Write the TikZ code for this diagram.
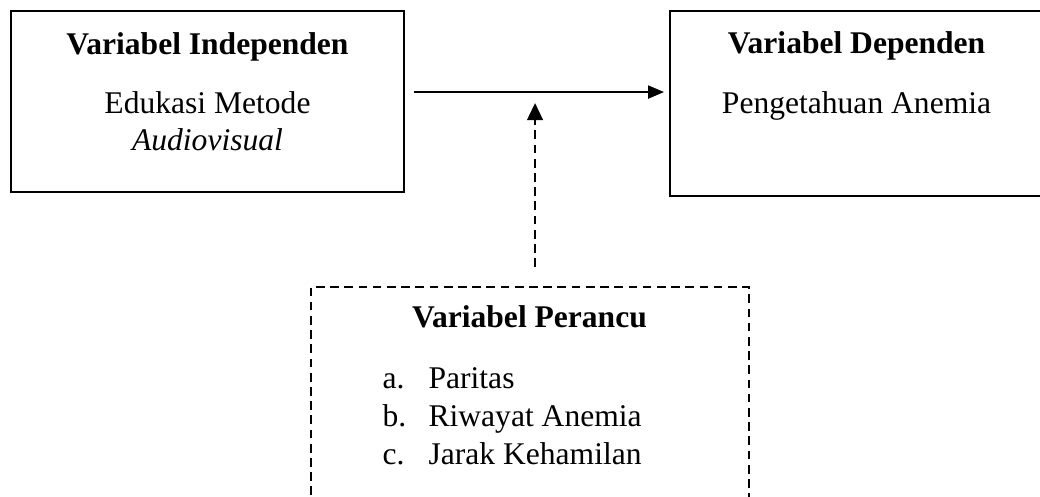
\documentclass[tikz,border=0pt]{standalone}
\usepackage{fontspec}
\setmainfont{Liberation Serif}
\usetikzlibrary{arrows.meta}

\begin{document}
\begin{tikzpicture}[
    box/.style={draw, line width=0.8pt, inner sep=0pt},
    dashbox/.style={draw, line width=0.8pt, inner sep=0pt, dash pattern=on 3.3pt off 2.1pt},
    txt/.style={anchor=base, inner sep=0pt, font=\fontsize{12}{14.3}\selectfont},
    arr/.style={line width=0.5pt, -{Triangle[length=6pt, width=5pt]}},
    dasharr/.style={line width=0.8pt, dash pattern=on 3.3pt off 2.1pt, -{Triangle[length=6.5pt, width=6pt]}}
]
    \useasboundingbox (0, 0) rectangle (13.894, 6.627);

    % Define the nodes with specific positions
    \node[box, minimum width=5.25cm, minimum height=2.418cm] (indep) at (2.772, 5.270) {};
    \node[box, minimum width=4.983cm, minimum height=2.472cm] (dep) at (11.443, 5.244) {};
    \node[dashbox, minimum width=5.852cm, minimum height=3.092cm] (perancu) at (7.081, 1.246) {};

    \node[txt] (indeptitle) at (2.772, 5.905) {\textbf{Variabel Independen}};
    \node[txt] (indeptext) at (2.772, 5.115) {\begin{tabular}[t]{@{}c@{}}Edukasi Metode\\ \textit{Audiovisual}\end{tabular}};

    \node[txt] (deptitle) at (11.443, 5.918) {\textbf{Variabel Dependen}};
    \node[txt] (deptext) at (11.443, 5.115) {Pengetahuan Anemia};

    \node[txt] (perancutitle) at (7.074, 2.245) {\textbf{Variabel Perancu}};
    \node[txt, anchor=base west] (perancutext) at (5.104, 1.430) {\begin{tabular}[t]{@{}p{17.5pt}@{}l@{}}
        a. & Paritas\\
        b. & Riwayat Anemia\\
        c. & Jarak Kehamilan
    \end{tabular}};

    \coordinate (mid) at (7.148, 5.397);

    % Draw the edges between nodes
    \draw[arr, shorten <=0.12cm, shorten >=0.067cm] (indep.east |- mid) -- (dep.west |- mid);
    \draw[dasharr, shorten <=0.254cm, shorten >=0.147cm] (perancu.north -| mid) -- (mid);
\end{tikzpicture}
\end{document}
